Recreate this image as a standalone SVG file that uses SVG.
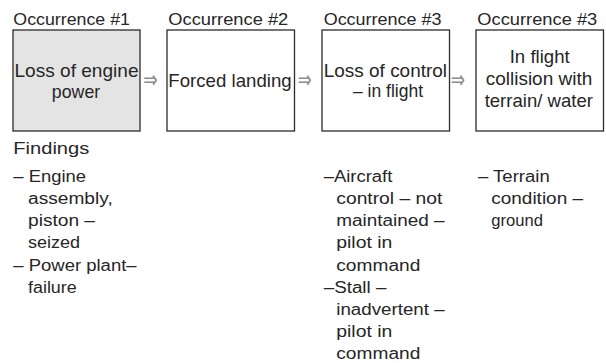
<svg xmlns="http://www.w3.org/2000/svg" width="606" height="363" viewBox="0 0 606 363">
  <style>
    .box { fill: #ffffff; stroke: #2b2b2b; stroke-width: 1.3; }
    .box.first { fill: #e4e4e4; }
    text { font-family: "Liberation Sans", Arial, sans-serif; fill: #262626; }
    .label { font-size: 16.5px; }
    .inbox { font-size: 19px; text-anchor: middle; }
    .finding { font-size: 16px; }
    .arrow { font-family: "DejaVu Sans", sans-serif; font-size: 25px; fill: #8c8c8c; }
  </style>

  <rect width="606" height="363" fill="#ffffff"/>

  <!-- occurrence 1 -->
  <g id="occ1">
    <text class="label" x="13.3" y="24.5" textLength="116.7" lengthAdjust="spacingAndGlyphs">Occurrence #1</text>
    <rect class="box first" x="13" y="30" width="127" height="101"/>
    <text class="inbox" x="76.5" y="77" textLength="124" lengthAdjust="spacingAndGlyphs">Loss of engine</text>
    <text class="inbox" x="76" y="98" textLength="48.3" lengthAdjust="spacingAndGlyphs">power</text>
  </g>

  <!-- occurrence 2 -->
  <g id="occ2">
    <text class="label" x="168.3" y="24.5" textLength="120" lengthAdjust="spacingAndGlyphs">Occurrence #2</text>
    <rect class="box" x="167" y="30" width="127.5" height="101"/>
    <text class="inbox" x="230" y="86.5" textLength="123.3" lengthAdjust="spacingAndGlyphs">Forced landing</text>
  </g>

  <!-- occurrence 3 -->
  <g id="occ3">
    <text class="label" x="323.7" y="24.5" textLength="117.7" lengthAdjust="spacingAndGlyphs">Occurrence #3</text>
    <rect class="box" x="322" y="30" width="127.5" height="101"/>
    <text class="inbox" x="385.4" y="77" textLength="123.3" lengthAdjust="spacingAndGlyphs">Loss of control</text>
    <text class="inbox" x="388" y="97" textLength="70" lengthAdjust="spacingAndGlyphs">– in flight</text>
  </g>

  <!-- occurrence 4 -->
  <g id="occ4">
    <text class="label" x="477.3" y="24.5" textLength="120" lengthAdjust="spacingAndGlyphs">Occurrence #3</text>
    <rect class="box" x="476" y="30" width="127.5" height="101"/>
    <text class="inbox" x="539.7" y="63.3" textLength="60" lengthAdjust="spacingAndGlyphs">In flight</text>
    <text class="inbox" x="539" y="85" textLength="106.7" lengthAdjust="spacingAndGlyphs">collision with</text>
    <text class="inbox" x="538.8" y="106.7" textLength="108.3" lengthAdjust="spacingAndGlyphs">terrain/ water</text>
  </g>

  <!-- arrows between occurrences -->
  <g id="connectors">
    <text class="arrow" x="143.3" y="87.5" textLength="14.4" lengthAdjust="spacingAndGlyphs">⇒</text>
    <text class="arrow" x="297.7" y="87.5" textLength="14" lengthAdjust="spacingAndGlyphs">⇒</text>
    <text class="arrow" x="450.7" y="87.5" textLength="14.3" lengthAdjust="spacingAndGlyphs">⇒</text>
  </g>

  <!-- findings, column 1 -->
  <g id="findings1">
    <text class="finding" x="13.3" y="154" textLength="76" lengthAdjust="spacingAndGlyphs">Findings</text>
    <text class="finding" x="13.3" y="181.7" textLength="72.7" lengthAdjust="spacingAndGlyphs">– Engine</text>
    <text class="finding" x="28" y="203.8" textLength="84.7" lengthAdjust="spacingAndGlyphs">assembly,</text>
    <text class="finding" x="28" y="226" textLength="67" lengthAdjust="spacingAndGlyphs">piston –</text>
    <text class="finding" x="28" y="248.2" textLength="52" lengthAdjust="spacingAndGlyphs">seized</text>
    <text class="finding" x="13.3" y="270.5" textLength="123.3" lengthAdjust="spacingAndGlyphs">– Power plant–</text>
    <text class="finding" x="28" y="292.7" textLength="48.7" lengthAdjust="spacingAndGlyphs">failure</text>
  </g>

  <!-- findings, column 3 -->
  <g id="findings3">
    <text class="finding" x="323.7" y="181.7" textLength="68.7" lengthAdjust="spacingAndGlyphs">–Aircraft</text>
    <text class="finding" x="336.3" y="203.8" textLength="106" lengthAdjust="spacingAndGlyphs">control – not</text>
    <text class="finding" x="336.3" y="226" textLength="108.3" lengthAdjust="spacingAndGlyphs">maintained –</text>
    <text class="finding" x="336.3" y="248.2" textLength="56" lengthAdjust="spacingAndGlyphs">pilot in</text>
    <text class="finding" x="336.3" y="270.5" textLength="84" lengthAdjust="spacingAndGlyphs">command</text>
    <text class="finding" x="323.7" y="292.7" textLength="62.7" lengthAdjust="spacingAndGlyphs">–Stall –</text>
    <text class="finding" x="336.3" y="314.9" textLength="108.3" lengthAdjust="spacingAndGlyphs">inadvertent –</text>
    <text class="finding" x="336.3" y="337.1" textLength="56" lengthAdjust="spacingAndGlyphs">pilot in</text>
    <text class="finding" x="336.3" y="359.3" textLength="84" lengthAdjust="spacingAndGlyphs">command</text>
  </g>

  <!-- findings, column 4 -->
  <g id="findings4">
    <text class="finding" x="478" y="181.7" textLength="71.7" lengthAdjust="spacingAndGlyphs">– Terrain</text>
    <text class="finding" x="491.3" y="203.8" textLength="91.7" lengthAdjust="spacingAndGlyphs">condition –</text>
    <text class="finding" x="491.3" y="226" textLength="51.7" lengthAdjust="spacingAndGlyphs">ground</text>
  </g>
</svg>
